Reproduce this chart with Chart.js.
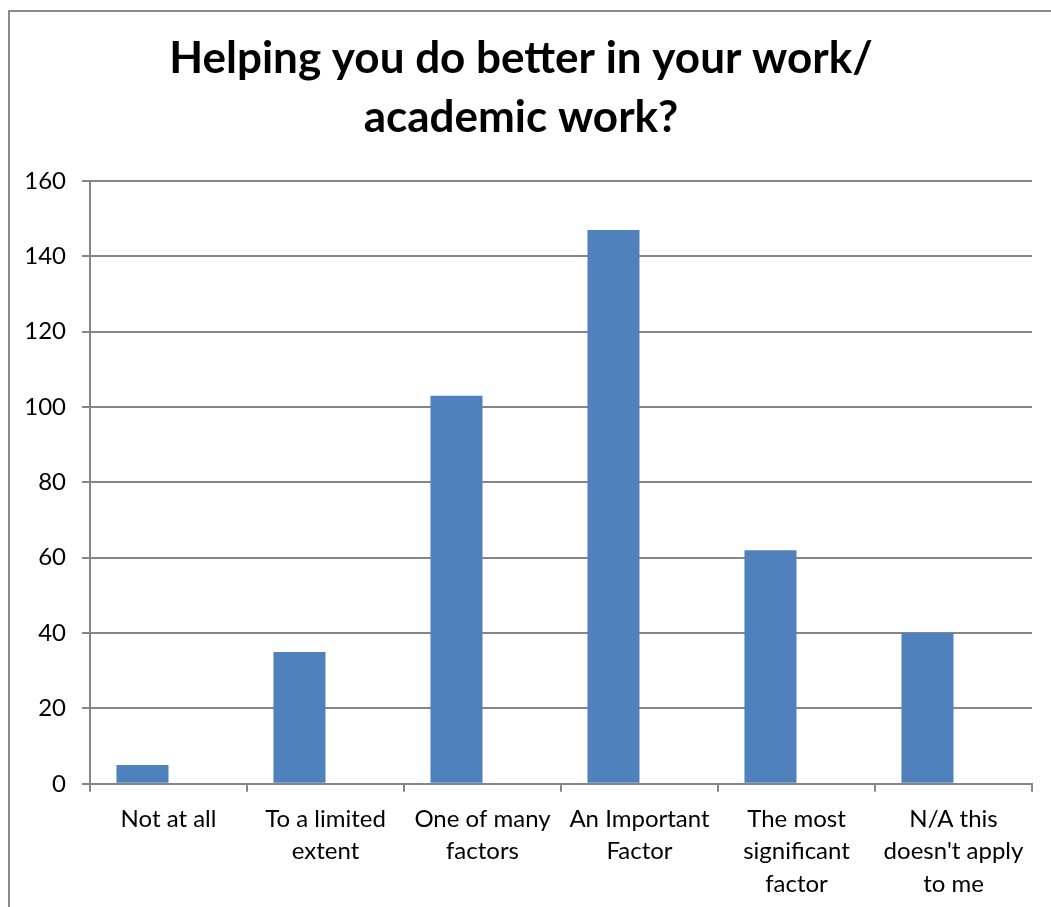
<!DOCTYPE html>
<html>
<head>
<meta charset="utf-8">
<script src="https://cdn.jsdelivr.net/npm/chart.js@4/dist/chart.umd.min.js"></script>
<style>
  html, body { margin: 0; padding: 0; background: #fff; overflow: hidden; }
  #frame {
    position: absolute; left: 8px; top: 10px;
    width: 1060px; height: 920px;
    border: 2px solid #8c8c8c;
    background: #fff;
  }
  #wrap { position: absolute; left: 0; top: 0; width: 1041px; height: 899px; }
</style>
</head>
<body>
<div id="frame"><div id="wrap"><canvas id="chart"></canvas></div></div>
<script>
const categories = [
  "Not at all",
  ["To a limited", "extent"],
  ["One of many", "factors"],
  ["An Important", "Factor"],
  ["The most", "significant", "factor"],
  ["N/A this", "doesn't apply", "to me"]
];
const responses = [5, 35, 103, 147, 62, 40];
const secondSeries = [null, null, null, null, null, null];
const yTicks = [0, 20, 40, 60, 80, 100, 120, 140, 160];

const FONT = "Lato, 'Open Sans', sans-serif";
const GRID = "#868686";

new Chart(document.getElementById("chart"), {
  type: "bar",
  data: {
    labels: categories,
    datasets: [
      { label: "Responses", data: responses, backgroundColor: "#4F81BD", borderWidth: 0 },
      { label: "", data: secondSeries, backgroundColor: "#C0504D", borderWidth: 0 }
    ]
  },
  options: {
    responsive: true,
    maintainAspectRatio: false,
    animation: false,
    layout: { padding: { left: 0, right: 19, top: 0, bottom: 0 } },
    datasets: { bar: { categoryPercentage: 0.663, barPercentage: 1.0 } },
    plugins: {
      legend: { display: false },
      tooltip: { enabled: false },
      title: {
        display: true,
        text: ["Helping you do better in your work/", "academic work?"],
        color: "#000",
        font: { family: FONT, size: 44, weight: "bold", lineHeight: 1.34 },
        padding: { top: 17, bottom: 34 }
      }
    },
    scales: {
      x: {
        grid: { offset: true, drawOnChartArea: false, drawTicks: true, tickLength: 8, color: GRID, lineWidth: 2 },
        border: { color: GRID, width: 2 },
        ticks: { color: "#000", font: { family: FONT, size: 24, lineHeight: 1.35 }, padding: 11, maxRotation: 0, autoSkip: false }
      },
      y: {
        min: 0,
        max: 160,
        afterBuildTicks: (s) => { s.ticks = yTicks.map((v) => ({ value: v })); },
        afterFit: (s) => { s.width = 80; },
        grid: { color: GRID, lineWidth: 2, tickLength: 8 },
        border: { color: GRID, width: 2 },
        ticks: { color: "#000", font: { family: FONT, size: 24 }, padding: 16 }
      }
    }
  }
});
</script>
</body>
</html>
